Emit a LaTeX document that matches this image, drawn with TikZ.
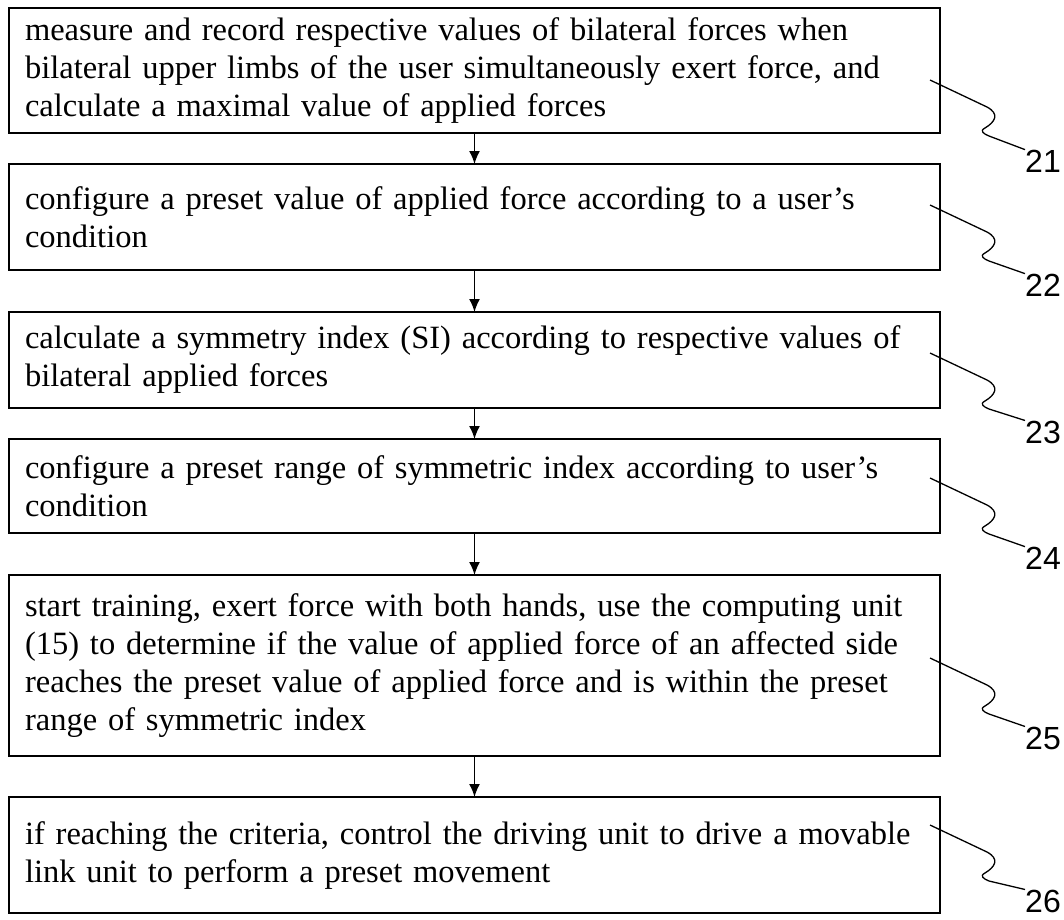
\documentclass[tikz,border=0pt]{standalone}
\usepackage{fontspec}
\setmainfont{Liberation Serif}
\newfontfamily\labelfont{Liberation Sans}
\usetikzlibrary{positioning,arrows.meta}
\tikzset{>={Latex[length=13pt,width=11pt]}}
\newcommand\squiggle[2]{\draw[leader] (#1) -- ++(57,27) .. controls +(13,7) and +(10,-6) .. ++(-2,21) .. controls +(-6,3) and +(-5,-2) .. ++(4,8) -- (#2.north west);}

\begin{document}
\begin{tikzpicture}[x=1pt, y=-1pt,
    stepbox/.style={draw, rectangle, line width=1.6pt, outer sep=0pt, minimum width=931pt, text width=899pt,
        inner xsep=16pt, inner ysep=4pt, align=left, font=\fontsize{32.5}{38}\selectfont},
    reflabel/.style={inner sep=0pt, font=\labelfont\fontsize{32}{32}\selectfont},
    leader/.style={line width=1.3pt}]
    \useasboundingbox (0,0) rectangle (1064,919);

    % Steps
    \node[stepbox, minimum height=125pt] (s21) at (474.5,70.5) {measure and record respective values of bilateral forces when\\ bilateral upper limbs of the user simultaneously exert force, and\\ calculate a maximal value of applied forces};
    \node[stepbox, minimum height=106pt, below=31pt of s21] (s22) {configure a preset value of applied force according to a user’s\\ condition};
    \node[stepbox, minimum height=96pt, below=42pt of s22] (s23) {calculate a symmetry index (SI) according to respective values of\\ bilateral applied forces};
    \node[stepbox, minimum height=94pt, below=31pt of s23] (s24) {configure a preset range of symmetric index according to user’s\\ condition};
    \node[stepbox, minimum height=181pt, below=42pt of s24] (s25) {start training, exert force with both hands, use the computing unit\\ (15) to determine if the value of applied force of an affected side\\ reaches the preset value of applied force and is within the preset\\ range of symmetric index};
    \node[stepbox, minimum height=116pt, below=41pt of s25] (s26) {if reaching the criteria, control the driving unit to drive a movable\\ link unit to perform a preset movement};

    % Arrows
    \draw[->, line width=1.6pt] (s21) -- (s22);
    \draw[->, line width=1.6pt] (s22) -- (s23);
    \draw[->, line width=1.6pt] (s23) -- (s24);
    \draw[->, line width=1.6pt] (s24) -- (s25);
    \draw[->, line width=1.6pt] (s25) -- (s26);

    % Reference numerals
    \node[reflabel] (n21) at (1043,161) {21};
    \node[reflabel] (n22) at (1043,285) {22};
    \node[reflabel] (n23) at (1043,432) {23};
    \node[reflabel] (n24) at (1043,558) {24};
    \node[reflabel] (n25) at (1043,738) {25};
    \node[reflabel] (n26) at (1043,901) {26};

    % Leaders
    \coordinate (t21) at (930,80);
    \coordinate (t22) at (930,205);
    \coordinate (t23) at (930,353);
    \coordinate (t24) at (930,478);
    \coordinate (t25) at (930,658);
    \coordinate (t26) at (930,825);
    \squiggle{t21}{n21}
    \squiggle{t22}{n22}
    \squiggle{t23}{n23}
    \squiggle{t24}{n24}
    \squiggle{t25}{n25}
    \squiggle{t26}{n26}
\end{tikzpicture}
\end{document}
